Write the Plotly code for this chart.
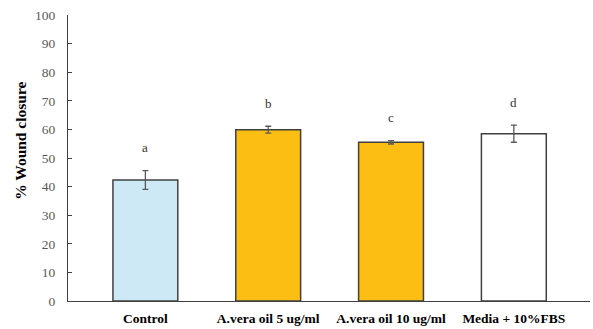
import plotly.graph_objects as go

# Wound closure data
categories = ["Control", "A.vera oil 5 ug/ml", "A.vera oil 10 ug/ml", "Media + 10%FBS"]
closure = [42.3, 59.9, 55.5, 58.5]
closure_err = [3.3, 1.2, 0.6, 3.0]
letters = ["a", "b", "c", "d"]
bar_colors = ["#CDE9F6", "#FCBE13", "#FCBE13", "#FFFFFF"]
y_ticks = [0, 10, 20, 30, 40, 50, 60, 70, 80, 90, 100]

serif = "Liberation Serif, Times New Roman, serif"

fig = go.Figure()
fig.add_trace(go.Bar(
    x=categories,
    y=closure,
    width=0.528,
    marker=dict(color=bar_colors, line=dict(color="#404040", width=1.5)),
    error_y=dict(type="data", array=closure_err, visible=True,
                 color="#595959", thickness=1.3, width=3),
    showlegend=False,
))

# significance letters above each error bar
for cat, val, err, lab in zip(categories, closure, closure_err, letters):
    fig.add_annotation(x=cat, y=val + err, text=lab, showarrow=False,
                       yshift=23, yanchor="middle",
                       font=dict(family=serif, size=13, color="#333333"))

# y-axis title
fig.add_annotation(xref="paper", yref="paper", x=-0.09, y=0.56,
                   text="<b>% Wound closure</b>", textangle=-90,
                   showarrow=False, xanchor="center", yanchor="middle",
                   font=dict(family=serif, size=15.5, color="#000000"))

fig.update_layout(
    width=593, height=329,
    margin=dict(l=68, r=3, t=15, b=26),
    plot_bgcolor="white", paper_bgcolor="white",
    xaxis=dict(
        range=[-0.63, 3.62],
        showline=True, linecolor="#404040", linewidth=1.3,
        ticks="", showgrid=False, zeroline=False,
        tickfont=dict(family=serif, size=13.5, color="#000000"),
        ticktext=[f"<b>{c}</b>" for c in categories],
        tickvals=categories,
        ticklabelstandoff=5,
    ),
    yaxis=dict(
        range=[0, 100], tickvals=y_ticks,
        showline=True, linecolor="#404040", linewidth=1.3,
        ticks="inside", ticklen=4, tickcolor="#404040", tickwidth=1.3,
        showgrid=False, zeroline=False,
        tickfont=dict(family=serif, size=13.5, color="#595959"),
        ticklabelstandoff=9,
    ),
)

fig.write_html("out.html")
